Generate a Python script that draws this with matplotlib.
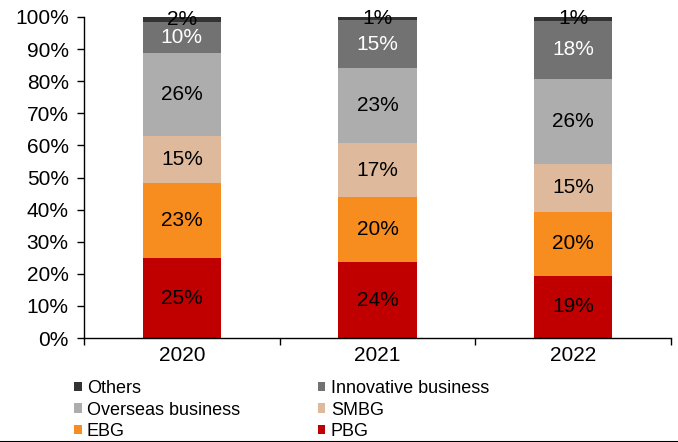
import matplotlib
matplotlib.use("Agg")
import matplotlib.pyplot as plt
from matplotlib.patches import Patch
from matplotlib.lines import Line2D
import numpy as np

plt.rcParams['font.family'] = ['Liberation Sans', 'DejaVu Sans']

years = ["2020", "2021", "2022"]
segments = ["PBG", "EBG", "SMBG", "Overseas business", "Innovative business", "Others"]
pbg = [24.9, 23.6, 19.4]
ebg = [23.4, 20.4, 19.9]
smbg = [14.6, 16.6, 15.0]
overseas = [26.0, 23.4, 26.4]
innovative = [9.6, 15.0, 18.2]
others = [1.5, 1.0, 1.1]

colors = ["#C00000", "#F78C1F", "#DEB99B", "#ADADAD", "#727272", "#333333"]
label_colors = ["black", "black", "black", "black", "white", "black"]

FS = 15

fig = plt.figure(figsize=(6.78, 4.42), dpi=100)
ax = fig.add_axes([84 / 678, 1 - 338 / 442, (671 - 84) / 678, (338 - 17) / 442])

x = np.arange(len(years))
series = [pbg, ebg, smbg, overseas, innovative, others]
bottom = np.zeros(len(years))
for vals, col, lc in zip(series, colors, label_colors):
    vals = np.array(vals)
    ax.bar(x, vals, width=0.4, bottom=bottom, color=col, edgecolor="none")
    for xi, b, v in zip(x, bottom, vals):
        ax.text(xi, b + v / 2, f"{v:.0f}%", ha="center", va="center",
                fontsize=FS, color=lc)
    bottom += vals

ax.set_xlim(-0.5, len(years) - 0.5)
ax.set_ylim(0, 100)
ax.set_yticks(np.arange(0, 101, 10))
ax.set_yticklabels([f"{v}%" for v in range(0, 101, 10)], fontsize=FS)
ax.set_xticks(x)
ax.set_xticklabels(years, fontsize=FS)
ax.tick_params(axis="x", length=0, pad=6)
ax.set_xticks(np.arange(-0.5, len(years), 1.0), minor=True)
ax.tick_params(axis="x", which="minor", length=5, width=1, direction="out")
ax.tick_params(axis="y", length=5, width=1, direction="out", pad=6)
for side in ("top", "right"):
    ax.spines[side].set_visible(False)
for side in ("left", "bottom"):
    ax.spines[side].set_linewidth(1)
    ax.spines[side].set_color("black")

# Legend: two columns, laid out row by row
order = ["Others", "Overseas business", "EBG", "Innovative business", "SMBG", "PBG"]
cmap = dict(zip(segments, colors))
handles = [Patch(facecolor=cmap[n], edgecolor="none") for n in order]
fig.legend(handles, order, loc="upper left", bbox_to_anchor=(74 / 678, 1 - 380 / 442),
           ncol=2, frameon=False, fontsize=13,
           handlelength=0.42, handleheight=0.42,
           handletextpad=0.3, labelspacing=0.25, columnspacing=4.3,
           borderpad=0, borderaxespad=0)

fig.add_artist(Line2D([0, 1], [0.5 / 442, 0.5 / 442], color="black", lw=1.5,
                      transform=fig.transFigure))

fig.savefig("out.png", dpi=100)
